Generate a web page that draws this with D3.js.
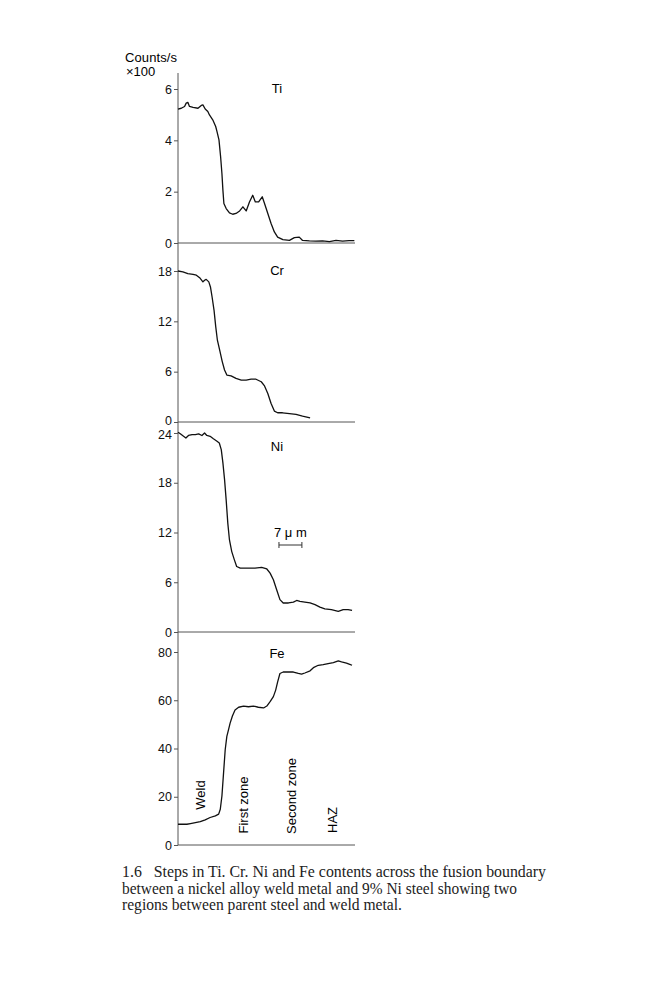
<!DOCTYPE html>
<html>
<head>
<meta charset="utf-8">
<script src="https://cdn.jsdelivr.net/npm/d3@7"></script>
<style>
body { margin: 0; background: #fff; }
svg { display: block; }
</style>
</head>
<body>
<div id="chart"></div>
<script>
// distance across the boundary, um ; counts/s x100
var tiX = [0, 1.0, 2.0, 2.5, 3.0, 3.5, 4.6, 6.1, 7.1, 7.6, 8.3, 9.1, 9.6, 10.6, 11.5, 11.9, 12.5, 13.0, 13.4, 13.7, 14.0, 14.7, 15.7, 16.7, 17.7, 18.8, 19.8, 20.8, 21.8, 22.8, 23.6, 24.6, 25.7, 26.4, 27.4, 28.4, 29.4, 30.4, 32.0, 34.0, 35.5, 37.0, 38.0, 40.1, 42.1, 44.1, 46.2, 48.2, 50.2, 52.2, 53.8];
var tiY = [5.22, 5.25, 5.32, 5.45, 5.48, 5.32, 5.28, 5.25, 5.36, 5.38, 5.22, 5.12, 4.99, 4.80, 4.54, 4.34, 4.02, 3.36, 2.71, 2.06, 1.54, 1.34, 1.17, 1.12, 1.15, 1.25, 1.41, 1.25, 1.60, 1.86, 1.60, 1.60, 1.80, 1.54, 1.15, 0.76, 0.43, 0.23, 0.13, 0.10, 0.21, 0.23, 0.10, 0.08, 0.07, 0.08, 0.05, 0.10, 0.07, 0.09, 0.09];

var crX = [0, 1.5, 3.0, 4.6, 5.6, 6.6, 7.6, 8.1, 8.6, 9.4, 9.9, 10.4, 11.0, 11.5, 12.0, 12.7, 13.5, 14.2, 14.9, 16.2, 17.7, 19.3, 20.8, 22.3, 23.8, 25.4, 26.4, 27.4, 28.4, 29.4, 30.4, 31.9, 34.0, 36.0, 38.0, 40.3];
var crY = [18.0, 17.9, 17.7, 17.6, 17.5, 17.2, 16.7, 16.9, 17.0, 16.7, 16.1, 14.9, 13.3, 11.4, 9.8, 8.6, 7.2, 6.2, 5.6, 5.5, 5.2, 5.0, 5.0, 5.1, 5.1, 4.8, 4.3, 3.4, 2.2, 1.3, 1.1, 1.1, 1.0, 0.9, 0.7, 0.5];

var niX = [0, 0.7, 1.7, 2.4, 3.2, 4.3, 5.3, 6.3, 7.3, 8.1, 8.8, 9.8, 10.8, 11.9, 12.6, 13.2, 13.7, 14.2, 14.7, 15.2, 15.7, 16.4, 17.2, 17.9, 19.0, 20.5, 22.0, 23.5, 25.5, 27.1, 28.1, 29.1, 30.1, 31.1, 32.1, 33.7, 35.2, 36.2, 37.2, 38.7, 40.3, 41.8, 43.3, 44.8, 46.8, 48.9, 50.4, 51.9, 53.1];
var niY = [24.1, 23.9, 23.6, 23.4, 23.7, 23.8, 23.8, 23.9, 23.7, 24.0, 23.7, 23.6, 23.3, 23.0, 22.8, 22.0, 20.4, 18.4, 15.9, 13.1, 11.1, 9.7, 8.7, 7.9, 7.7, 7.7, 7.7, 7.7, 7.8, 7.6, 7.1, 6.3, 5.1, 3.9, 3.5, 3.5, 3.6, 3.8, 3.7, 3.6, 3.5, 3.3, 3.0, 2.8, 2.7, 2.5, 2.7, 2.7, 2.6];

var feX = [0, 1.2, 2.7, 3.8, 5.3, 6.8, 8.3, 9.8, 11.4, 12.4, 12.9, 13.4, 13.9, 14.4, 14.9, 15.4, 15.9, 16.6, 17.4, 18.5, 20.0, 21.5, 23.0, 24.5, 26.1, 27.1, 28.1, 29.1, 29.8, 30.4, 31.1, 32.1, 33.7, 35.2, 36.7, 37.7, 38.7, 40.3, 41.3, 42.8, 44.3, 45.8, 47.4, 48.9, 49.9, 51.4, 52.4, 53.1];
var feY = [8.6, 8.6, 8.6, 8.9, 9.3, 9.7, 10.4, 11.4, 12.1, 12.8, 14.8, 20.3, 29.9, 39.5, 45.0, 47.7, 50.5, 53.5, 56.0, 57.1, 57.6, 57.3, 57.6, 57.1, 56.8, 57.6, 59.4, 61.5, 64.2, 67.6, 71.1, 71.7, 71.7, 71.7, 71.1, 70.8, 71.3, 72.2, 73.5, 74.5, 74.8, 75.2, 75.6, 76.3, 75.9, 75.4, 74.9, 74.5];

var elements = ["Ti", "Cr", "Ni", "Fe"];
var yMax = [6, 18, 24, 80];
var yTicks = [[0, 2, 4, 6], [0, 6, 12, 18], [0, 6, 12, 18, 24], [0, 20, 40, 60, 80]];
var zones = ["Weld", "First zone", "Second zone", "HAZ"];
var caption = [
	"1.6   Steps in Ti. Cr. Ni and Fe contents across the fusion boundary",
	"between a nickel alloy weld metal and 9% Ni steel showing two",
	"regions between parent steel and weld metal."
];

var xs = [tiX, crX, niX, feX];
var ys = [tiY, crY, niY, feY];

// pixel placement of each panel: [zero line, top tick]
var panelRange = [[243, 89], [422, 271], [632, 433], [845, 652]];
var labelBase = [93, 275, 451, 658];

var svg = d3.select("#chart")
	.append("svg")
	.attr("width", 666)
	.attr("height", 1000);

var x = d3.scaleLinear().domain([0, 54]).range([178, 355]);

var sans = "Liberation Sans, Arial, sans-serif";

// one long axis line down the left
svg.append("line")
	.attr("x1", 178).attr("x2", 178)
	.attr("y1", 73).attr("y2", 845)
	.attr("stroke", "#555")
	.attr("stroke-width", 1);

svg.append("text")
	.attr("x", 125).attr("y", 62)
	.attr("font-family", sans)
	.attr("font-size", 13)
	.attr("textLength", 52)
	.text("Counts/s");
svg.append("text")
	.attr("x", 126).attr("y", 76)
	.attr("font-family", sans)
	.attr("font-size", 13)
	.text("\u00d7100");

elements.forEach(function(el, i) {
	var y = d3.scaleLinear().domain([0, yMax[i]]).range(panelRange[i]);

	var ax = svg.append("g")
		.attr("transform", "translate(178,0)")
		.call(d3.axisLeft(y).tickValues(yTicks[i]).tickSize(4).tickSizeOuter(0).tickFormat(d3.format("d")));
	ax.select(".domain").remove();
	ax.selectAll(".tick line").attr("stroke", "#555");
	ax.selectAll(".tick text")
		.attr("font-family", sans)
		.attr("font-size", 12.5)
		.attr("fill", "#111")
		.attr("x", -6);
	// keep the stacked 0 / 24 labels apart
	if (i == 1) ax.selectAll(".tick text").filter(function(d) { return d == 0; }).attr("dy", "0.2em");
	if (i == 2) ax.selectAll(".tick text").filter(function(d) { return d == 24; }).attr("dy", "0.42em");

	// zero line
	svg.append("line")
		.attr("x1", x(0)).attr("x2", x(54))
		.attr("y1", y(0)).attr("y2", y(0))
		.attr("stroke", "#555")
		.attr("stroke-width", 1);

	var pts = xs[i].map(function(d, j) { return [d, ys[i][j]]; });
	var line = d3.line()
		.x(function(d) { return x(d[0]); })
		.y(function(d) { return y(d[1]); });

	svg.append("path")
		.datum(pts)
		.attr("d", line)
		.attr("fill", "none")
		.attr("stroke", "#111")
		.attr("stroke-width", 1.3)
		.attr("stroke-linejoin", "round");

	svg.append("text")
		.attr("x", 277).attr("y", labelBase[i])
		.attr("text-anchor", "middle")
		.attr("font-family", sans)
		.attr("font-size", 13)
		.text(el);
});

// scale bar in the Ni panel
var barStart = 30.8;
svg.append("text")
	.attr("x", (x(barStart) + x(barStart + 7)) / 2).attr("y", 537)
	.attr("text-anchor", "middle")
	.attr("font-family", sans)
	.attr("font-size", 13)
	.text("7 \u03bc m");
svg.append("line")
	.attr("x1", x(barStart)).attr("x2", x(barStart + 7))
	.attr("y1", 545).attr("y2", 545)
	.attr("stroke", "#333");
[barStart, barStart + 7].forEach(function(d) {
	svg.append("line")
		.attr("x1", x(d)).attr("x2", x(d))
		.attr("y1", 542).attr("y2", 548)
		.attr("stroke", "#333");
});

// zone names, rotated
var zoneX = [201, 244, 292, 333];
var zoneY = [795, 805, 796, 820];
svg.selectAll(".zone")
	.data(zones)
	.enter().append("text")
	.attr("class", "zone")
	.attr("transform", function(d, i) { return "translate(" + (zoneX[i] + 4) + "," + zoneY[i] + ") rotate(-90)"; })
	.attr("text-anchor", "middle")
	.attr("font-family", sans)
	.attr("font-size", 13)
	.text(function(d) { return d; });

// caption
var capLen = [424, 395, 280];
svg.selectAll(".cap")
	.data(caption)
	.enter().append("text")
	.attr("class", "cap")
	.attr("x", 122)
	.attr("y", function(d, i) { return 877 + i * 16.5; })
	.attr("font-family", "Liberation Serif, Times New Roman, serif")
	.attr("font-size", 16)
	.attr("fill", "#222")
	.style("white-space", "pre")
	.attr("textLength", function(d, i) { return capLen[i]; })
	.attr("lengthAdjust", "spacingAndGlyphs")
	.text(function(d) { return d; });
</script>
</body>
</html>
